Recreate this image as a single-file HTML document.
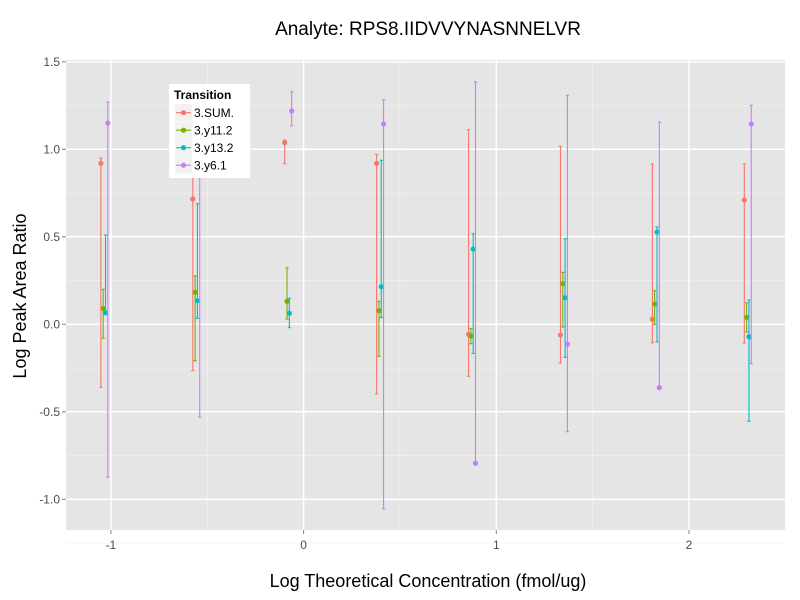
<!DOCTYPE html>
<html><head><meta charset="utf-8"><style>
html,body{margin:0;padding:0;background:#fff;}
svg{display:block;font-family:"Liberation Sans",sans-serif;}
</style></head><body>
<svg id="chart" width="800" height="600" xmlns="http://www.w3.org/2000/svg">
<text x="428" y="35" font-size="19" text-anchor="middle" fill="#000">Analyte: RPS8.IIDVVYNASNNELVR</text>
<text x="428" y="587" font-size="18" text-anchor="middle" fill="#000">Log Theoretical Concentration (fmol/ug)</text>
<text x="26" y="296" font-size="18" text-anchor="middle" fill="#000" transform="rotate(-90 26 296)">Log Peak Area Ratio</text>
</svg>
<script>
const series = ['3.SUM.', '3.y11.2', '3.y13.2', '3.y6.1'];
const colors = ['#F8766D', '#7CAE00', '#00BFC4', '#C77CFF'];
const concentrations = [-1.034, -0.557, -0.080, 0.397, 0.874, 1.351, 1.828, 2.305];
const sumMean = [0.92, 0.716, 1.038, 0.92, -0.057, -0.061, 0.029, 0.71];
const sumLow = [-0.36, -0.265, 0.918, -0.398, -0.297, -0.221, -0.105, -0.107];
const sumHigh = [0.95, 0.95, 1.053, 0.971, 1.112, 1.017, 0.916, 0.916];
const y112Mean = [0.09, 0.183, 0.131, 0.078, -0.067, 0.232, 0.116, 0.04];
const y112Low = [-0.08, -0.208, 0.03, -0.183, -0.111, -0.015, 0.0, -0.044];
const y112High = [0.2, 0.276, 0.323, 0.131, -0.025, 0.297, 0.192, 0.123];
const y132Mean = [0.066, 0.135, 0.063, 0.215, 0.43, 0.152, 0.527, -0.071];
const y132Low = [0.06, 0.034, -0.019, 0.038, -0.166, -0.189, -0.101, -0.554];
const y132High = [0.51, 0.689, 0.149, 0.937, 0.518, 0.489, 0.556, 0.139];
const y61Mean = [1.15, 1.0, 1.219, 1.145, -0.794, -0.114, -0.362, 1.145];
const y61Low = [-0.874, -0.53, 1.135, -1.054, -0.794, -0.614, -0.362, -0.225];
const y61High = [1.27, 1.2, 1.329, 1.282, 1.385, 1.309, 1.156, 1.251];
const xTicks = [-1, 0, 1, 2];
const xTickLabels = ['-1', '0', '1', '2'];
const yTicks = [-1, -0.5, 0, 0.5, 1, 1.5];
const yTickLabels = ['-1.0', '-0.5', '0.0', '0.5', '1.0', '1.5'];

const means = [sumMean, y112Mean, y132Mean, y61Mean];
const lows = [sumLow, y112Low, y132Low, y61Low];
const highs = [sumHigh, y112High, y132High, y61High];
const dodge = [-0.018, -0.006, 0.006, 0.018];

const P = {l: 66, r: 785, t: 60, b: 530};
const xs = v => 303.6 + v * 192.7;
const ys = v => 324.3 - v * 175;
const NS = 'http://www.w3.org/2000/svg';
const svg = document.getElementById('chart');
function mk(tag, attrs, parent) {
  const e = document.createElementNS(NS, tag);
  for (const k in attrs) e.setAttribute(k, attrs[k]);
  (parent || svg).appendChild(e);
  return e;
}
const panel = mk('rect', {x: P.l, y: P.t, width: P.r - P.l, height: P.b - P.t, fill: '#E5E5E5'});


// minor grid
for (let i = 0; i < xTicks.length - 1; i++) {
  const x = xs((xTicks[i] + xTicks[i + 1]) / 2);
  const g = mk('line', {x1: x, x2: x, y1: P.t, y2: P.b, stroke: '#F2F2F2', 'stroke-width': 0.7});
  
  
}
for (let i = 0; i < yTicks.length - 1; i++) {
  const y = ys((yTicks[i] + yTicks[i + 1]) / 2);
  const g = mk('line', {x1: P.l, x2: P.r, y1: y, y2: y, stroke: '#F2F2F2', 'stroke-width': 0.7});
  
  
}
{
  const y = ys(yTicks[0] - 0.25);
  const g = mk('line', {x1: P.l, x2: P.r, y1: y, y2: y, stroke: '#F2F2F2', 'stroke-width': 0.7});
  
  
}
// major grid + ticks
xTicks.forEach((t, i) => {
  const x = xs(t);
  const g = mk('line', {x1: x, x2: x, y1: P.t, y2: P.b, stroke: '#fff', 'stroke-width': 1.5});
  
  
  const tk = mk('line', {x1: x, x2: x, y1: P.b, y2: P.b + 4, stroke: '#7f7f7f', 'stroke-width': 1});
  
  
  const tx = mk('text', {x: x, y: P.b + 19, 'font-size': 12, 'text-anchor': 'middle', fill: '#4d4d4d'});
  tx.textContent = xTickLabels[i];
  
  
});
yTicks.forEach((t, i) => {
  const y = ys(t);
  const g = mk('line', {x1: P.l, x2: P.r, y1: y, y2: y, stroke: '#fff', 'stroke-width': 1.5});
  
  
  const tk = mk('line', {x1: P.l - 4, x2: P.l, y1: y, y2: y, stroke: '#7f7f7f', 'stroke-width': 1});
  
  
  const tx = mk('text', {x: P.l - 6, y: y + 4, 'font-size': 12, 'text-anchor': 'end', fill: '#4d4d4d'});
  tx.textContent = yTickLabels[i];
  
  
});
// series
series.forEach((s, si) => {
  concentrations.forEach((c, ci) => {
    const x = xs(c + dodge[si]);
    const yl = ys(lows[si][ci]), yh = ys(highs[si][ci]), ym = ys(means[si][ci]);
    const g = mk('g', {});
    
    
    mk('line', {x1: x, x2: x, y1: yl, y2: yh, stroke: colors[si], 'stroke-width': 1.1}, g);
    mk('line', {x1: x - 1.6, x2: x + 1.6, y1: yl, y2: yl, stroke: colors[si], 'stroke-width': 1.1}, g);
    mk('line', {x1: x - 1.6, x2: x + 1.6, y1: yh, y2: yh, stroke: colors[si], 'stroke-width': 1.1}, g);
    const p = mk('circle', {cx: x, cy: ym, r: 2.6, fill: colors[si]});
    
    
  });
});
// legend
const lg = mk('g', {});


mk('rect', {x: 169, y: 84, width: 81, height: 94, fill: '#fff'}, lg);
const lt = mk('text', {x: 174, y: 99, 'font-size': 12, 'font-weight': 'bold', fill: '#000'}, lg);
lt.textContent = 'Transition';


series.forEach((s, i) => {
  const cy = 112.7 + i * 17.5;
  const e = mk('g', {}, lg);
  
  
  mk('rect', {x: 175, y: cy - 8.5, width: 17, height: 17, fill: '#F2F2F2'}, e);
  mk('line', {x1: 176, x2: 191, y1: cy, y2: cy, stroke: colors[i], 'stroke-width': 1.1}, e);
  mk('circle', {cx: 183.5, cy: cy, r: 2.6, fill: colors[i]}, e);
  const t = mk('text', {x: 194, y: cy + 4.5, 'font-size': 12, fill: '#000'}, e);
  t.textContent = s;
});
</script>
</body></html>
